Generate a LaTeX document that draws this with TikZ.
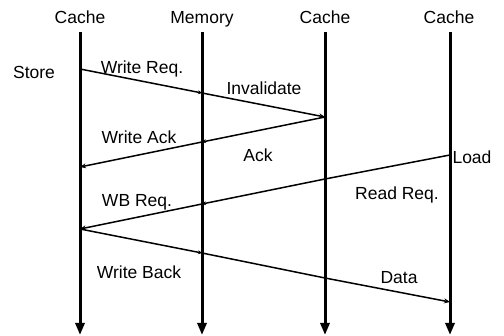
\documentclass[tikz,border=0pt]{standalone}
\usepackage{fontspec}
\setmainfont{Liberation Sans}
\usetikzlibrary{arrows.meta}
\begin{document}
\begin{tikzpicture}[x=1pt,y=-1pt,
  lbl/.style={font=\fontsize{17.5}{20}\selectfont, inner sep=0pt, text height=12.5pt, text depth=0pt, anchor=center},
  life/.style={line width=3pt, -{Triangle[length=12pt,width=9pt]}},
  msg/.style={line width=1.5pt, -{Stealth[length=6pt,width=5pt]}},
  mid/.style={line width=1.5pt, -{Stealth[length=4pt,width=4pt]}},
  seg/.style={line width=1.5pt}]
\useasboundingbox (0,0) rectangle (504,336);
% lifeline heads
\node[lbl] (h1) at (80,17.5) {Cache};
\node[lbl] (h2) at (202,17.5) {Memory};
\node[lbl] (h3) at (325,17.5) {Cache};
\node[lbl] (h4) at (449,17.5) {Cache};
% lifeline ends
\coordinate (t1) at (80,32); \coordinate (b1) at (80,335);
\coordinate (t2) at (202,32); \coordinate (b2) at (202,335);
\coordinate (t3) at (325,32); \coordinate (b3) at (325,335);
\coordinate (t4) at (450,32); \coordinate (b4) at (450,335);
\draw[life] (t1) -- (b1);
\draw[life] (t2) -- (b2);
\draw[life] (t3) -- (b3);
\draw[life] (t4) -- (b4);
% message points
\coordinate (s1) at (80,69);
\coordinate (m1) at (202,93);
\coordinate (i1) at (325,117);
\coordinate (m2) at (202,142);
\coordinate (a1) at (80,167);
\coordinate (l1) at (450,155);
\coordinate (r3) at (325,179);
\coordinate (m3) at (202,204);
\coordinate (w1) at (80,229);
\coordinate (m4) at (202,253);
\coordinate (d3) at (325,278);
\coordinate (d4) at (450,302);
% messages
\draw[mid] (s1) -- (m1);
\draw[msg] (m1) -- (i1);
\draw[mid] (i1) -- (m2);
\draw[msg] (m2) -- (a1);
\draw[seg] (l1) -- (r3);
\draw[mid] (r3) -- (m3);
\draw[msg] (m3) -- (w1);
\draw[mid] (w1) -- (m4);
\draw[seg] (m4) -- (d3);
\draw[msg] (d3) -- (d4);
% labels
\node[lbl] (store) at (34,72) {Store};
\node[lbl] (load) at (472,157) {Load};
\node[lbl] (wreq) at (142,67) {Write Req.};
\node[lbl] (inv) at (264,88) {Invalidate};
\node[lbl] (wack) at (139,137) {Write Ack};
\node[lbl] (ack) at (258,155) {Ack};
\node[lbl] (wbreq) at (137,200) {WB Req.};
\node[lbl] (rreq) at (397,193) {Read Req.};
\node[lbl] (wb) at (139,272) {Write Back};
\node[lbl] (data) at (399,277) {Data};
\end{tikzpicture}
\end{document}
